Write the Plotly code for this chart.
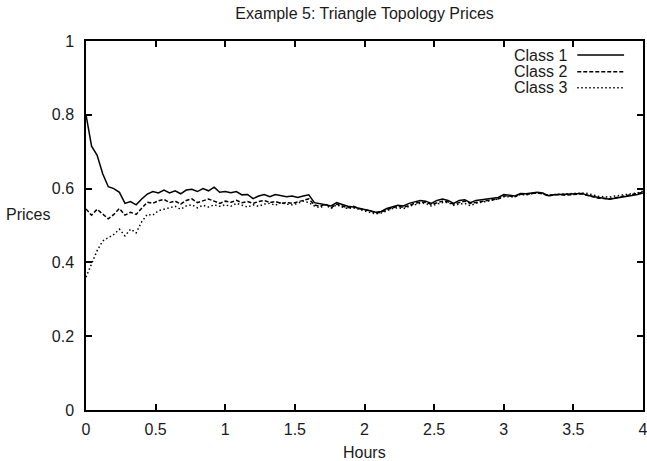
import plotly.graph_objects as go

hours = [0.00, 0.04, 0.08, 0.12, 0.16, 0.20, 0.24, 0.28, 0.32, 0.36,
         0.40, 0.44, 0.48, 0.52, 0.56, 0.60, 0.64, 0.68, 0.72, 0.76,
         0.80, 0.84, 0.88, 0.92, 0.96, 1.00, 1.04, 1.08, 1.12, 1.16,
         1.20, 1.24, 1.28, 1.32, 1.36, 1.40, 1.44, 1.48, 1.52, 1.56,
         1.60, 1.64, 1.68, 1.72, 1.76, 1.80, 1.84, 1.88, 1.92, 1.96,
         2.00, 2.04, 2.08, 2.12, 2.16, 2.20, 2.24, 2.28, 2.32, 2.36,
         2.40, 2.44, 2.48, 2.52, 2.56, 2.60, 2.64, 2.68, 2.72, 2.76,
         2.80, 2.84, 2.88, 2.92, 2.96, 3.00, 3.04, 3.08, 3.12, 3.16,
         3.20, 3.24, 3.28, 3.32, 3.36, 3.40, 3.44, 3.48, 3.52, 3.56,
         3.60, 3.64, 3.68, 3.72, 3.76, 3.80, 3.84, 3.88, 3.92, 3.96,
         4.00]

class1 = [0.800, 0.715, 0.690, 0.640, 0.605, 0.600, 0.590, 0.560, 0.565, 0.556,
          0.572, 0.585, 0.592, 0.588, 0.596, 0.588, 0.594, 0.586, 0.596, 0.598,
          0.592, 0.600, 0.594, 0.604, 0.590, 0.592, 0.589, 0.592, 0.583, 0.584,
          0.573, 0.580, 0.584, 0.578, 0.584, 0.582, 0.578, 0.580, 0.576, 0.580,
          0.583, 0.562, 0.560, 0.556, 0.553, 0.562, 0.557, 0.552, 0.550, 0.547,
          0.545, 0.540, 0.536, 0.538, 0.546, 0.550, 0.555, 0.553, 0.560, 0.564,
          0.568, 0.566, 0.560, 0.568, 0.572, 0.568, 0.560, 0.568, 0.570, 0.562,
          0.568, 0.570, 0.572, 0.574, 0.576, 0.584, 0.582, 0.580, 0.587, 0.586,
          0.588, 0.590, 0.588, 0.581, 0.583, 0.584, 0.583, 0.584, 0.585, 0.587,
          0.582, 0.578, 0.576, 0.574, 0.571, 0.574, 0.576, 0.580, 0.581, 0.584,
          0.588]

class2 = [0.545, 0.528, 0.544, 0.530, 0.518, 0.530, 0.546, 0.528, 0.536, 0.530,
          0.548, 0.563, 0.560, 0.567, 0.571, 0.562, 0.566, 0.558, 0.568, 0.572,
          0.562, 0.568, 0.572, 0.566, 0.560, 0.566, 0.563, 0.568, 0.562, 0.565,
          0.560, 0.565, 0.568, 0.562, 0.565, 0.560, 0.562, 0.560, 0.564, 0.570,
          0.572, 0.556, 0.552, 0.558, 0.548, 0.558, 0.553, 0.548, 0.552, 0.546,
          0.543, 0.540, 0.534, 0.536, 0.543, 0.548, 0.552, 0.549, 0.555, 0.560,
          0.563, 0.563, 0.557, 0.562, 0.566, 0.564, 0.558, 0.562, 0.566, 0.560,
          0.563, 0.566, 0.569, 0.570, 0.572, 0.580, 0.580, 0.578, 0.585, 0.584,
          0.587, 0.588, 0.586, 0.580, 0.583, 0.584, 0.582, 0.584, 0.584, 0.586,
          0.582, 0.577, 0.574, 0.573, 0.572, 0.575, 0.578, 0.581, 0.583, 0.586,
          0.590]

class3 = [0.360, 0.395, 0.432, 0.458, 0.468, 0.476, 0.490, 0.472, 0.490, 0.480,
          0.510, 0.530, 0.528, 0.540, 0.544, 0.548, 0.552, 0.544, 0.553, 0.556,
          0.548, 0.555, 0.550, 0.556, 0.552, 0.556, 0.552, 0.560, 0.555, 0.550,
          0.556, 0.552, 0.558, 0.560, 0.555, 0.562, 0.558, 0.556, 0.560, 0.566,
          0.562, 0.553, 0.548, 0.556, 0.546, 0.556, 0.550, 0.546, 0.548, 0.544,
          0.540, 0.537, 0.531, 0.534, 0.540, 0.546, 0.548, 0.546, 0.552, 0.556,
          0.560, 0.560, 0.553, 0.558, 0.562, 0.562, 0.555, 0.558, 0.560, 0.554,
          0.560, 0.563, 0.566, 0.568, 0.572, 0.578, 0.578, 0.578, 0.584, 0.583,
          0.586, 0.588, 0.587, 0.582, 0.584, 0.585, 0.584, 0.586, 0.586, 0.588,
          0.587, 0.583, 0.579, 0.578, 0.577, 0.580, 0.582, 0.584, 0.586, 0.588,
          0.593]

series_names = ["Class 1", "Class 2", "Class 3"]
series_values = [class1, class2, class3]
dashes = ["solid", "4px,2px", "1.5px,2.5px"]

x_ticks = [0, 0.5, 1, 1.5, 2, 2.5, 3, 3.5, 4]
x_tick_labels = ["0", "0.5", "1", "1.5", "2", "2.5", "3", "3.5", "4"]
y_ticks = [0, 0.2, 0.4, 0.6, 0.8, 1]
y_tick_labels = ["0", "0.2", "0.4", "0.6", "0.8", "1"]

FONT = "Liberation Sans, Arial, Helvetica, sans-serif"
INK = "#1a1a1a"

fig = go.Figure()
for name, vals, dash in zip(series_names, series_values, dashes):
    fig.add_trace(go.Scatter(x=hours, y=vals, mode="lines", name=name,
                             line=dict(color="black", width=1.5, dash=dash),
                             showlegend=False))

# gnuplot-style legend: text right-aligned, line sample to the right
leg_y = [0.962, 0.917, 0.873]
for name, dash, yy in zip(series_names, dashes, leg_y):
    fig.add_annotation(x=0.868, y=yy, xref="paper", yref="paper", text=name,
                       showarrow=False, xanchor="right", yanchor="middle",
                       font=dict(family=FONT, size=16, color=INK))
    fig.add_shape(type="line", xref="paper", yref="paper",
                  x0=0.882, x1=0.966, y0=yy, y1=yy,
                  line=dict(color="black", width=1.5, dash=dash))

fig.add_annotation(x=0.5, y=-0.114, xref="paper", yref="paper", text="Hours",
                   showarrow=False, xanchor="center", yanchor="middle",
                   font=dict(family=FONT, size=16, color=INK))
fig.add_annotation(x=-0.104, y=0.53, xref="paper", yref="paper", text="Prices",
                   showarrow=False, xanchor="center", yanchor="middle",
                   font=dict(family=FONT, size=16, color=INK))

axis_common = dict(showline=True, linecolor="black", linewidth=1.5, mirror="ticks",
                   ticks="inside", ticklen=6, tickwidth=1.5, tickcolor="black",
                   showgrid=False, zeroline=False, automargin=False,
                   ticklabeloverflow="allow",
                   tickfont=dict(family=FONT, size=16, color=INK))

fig.update_layout(
    width=647, height=461,
    margin=dict(l=86, r=4, t=41, b=51),
    paper_bgcolor="white", plot_bgcolor="white",
    title=dict(text="Example 5: Triangle Topology Prices", x=0.5635, xanchor="center",
               y=0.97, yanchor="middle",
               font=dict(family=FONT, size=16, color=INK)),
    xaxis=dict(range=[0, 4], tickvals=x_ticks, ticktext=x_tick_labels,
               ticklabelstandoff=4, **axis_common),
    yaxis=dict(range=[0, 1], tickvals=y_ticks, ticktext=y_tick_labels,
               ticklabelstandoff=7, **axis_common),
)

fig.write_html("out.html")
